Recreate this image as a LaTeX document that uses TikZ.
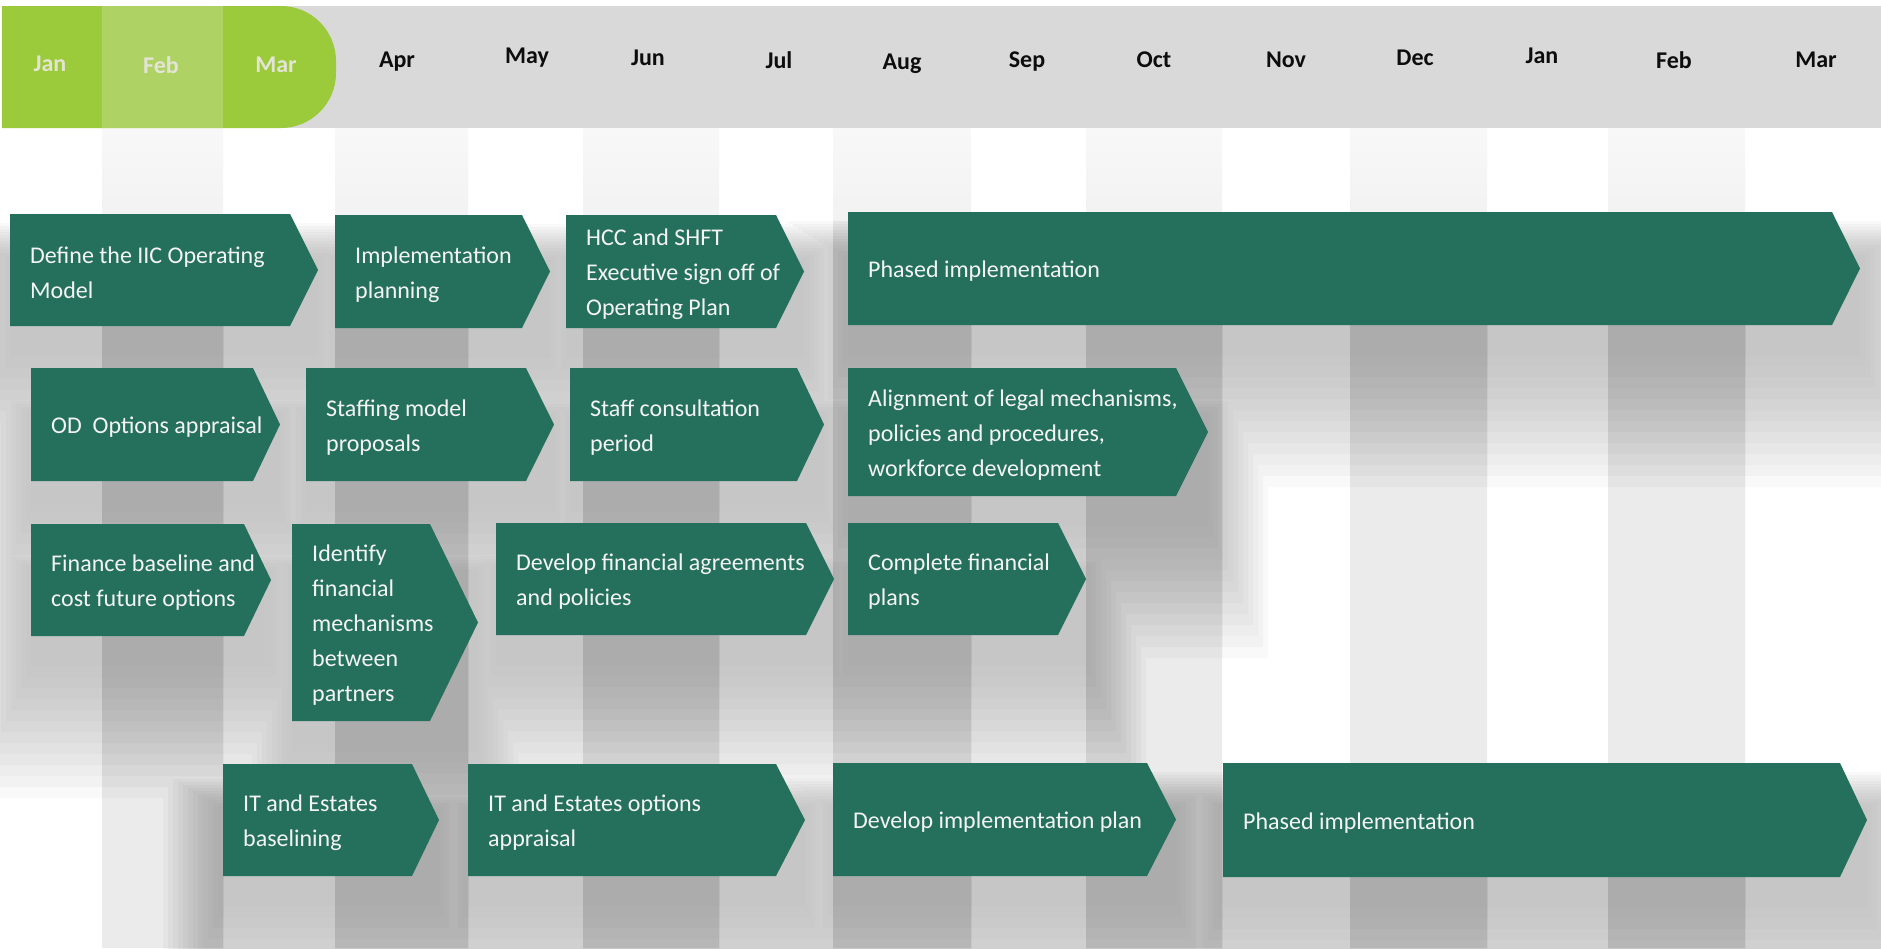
\documentclass[tikz,border=0pt]{standalone}
\usepackage{fontspec}
\setmainfont{Carlito}
\definecolor{arrowgreen}{HTML}{24705C}
\definecolor{txtwhite}{HTML}{F4F4F4}
\definecolor{hgray}{HTML}{D9D9D9}
\definecolor{hgreen}{HTML}{9BCA3A}
\definecolor{hgreenlight}{HTML}{AED263}
\definecolor{hgreentext}{HTML}{E4E4D6}
\definecolor{montext}{HTML}{0D0D0D}
\definecolor{shlight}{HTML}{C6C6C6}
\definecolor{shdark}{HTML}{ACACAC}
\definecolor{colbase}{HTML}{EBEBEB}
\definecolor{coltop}{HTML}{F8F8F8}
\tikzset{
  txt/.style={text=txtwhite, align=left, inner sep=0pt, anchor=west,
    font=\fontsize{24}{35}\selectfont},
  mon/.style={text=montext, inner sep=0pt, font=\fontsize{24}{28}\selectfont\bfseries},
  gmon/.style={mon, text=hgreentext},
}
% one shadow rectangle for arrow spanning x #1..#2, y #3..#4, grown by layer \k
\newcommand\sr[4]{({#1-\k*5},{#3+45-\k*3}) rectangle ({#2+\k*5},{#4+30+\k*11})}
\newcommand\allrects{%
  \sr{10}{318}{214}{326}
  \sr{335}{550}{215}{328}
  \sr{566}{804}{215}{328}
  \sr{848}{1860}{212}{325}
  \sr{31}{280}{368}{481}
  \sr{306}{554}{368}{481}
  \sr{570}{824}{368}{481}
  \sr{848}{1208}{368}{496}
  \sr{31}{271}{524}{636}
  \sr{292}{478}{524}{721}
  \sr{496}{834}{523}{635}
  \sr{848}{1086}{523}{635}
  \sr{223}{439}{764}{876}
  \sr{468}{805}{764}{876}
  \sr{833}{1176}{763}{876}
  \sr{1223}{1867}{763}{877}
}
% #1 core colour, #2 base colour
\newcommand\shadowpass[2]{%
  \foreach \k in {12,...,0}{%
    \pgfmathtruncatemacro\pct{100*(1-(\k/13)^1.5)}%
    \fill[fill=#1!\pct!#2] \allrects;
  }%
}
\newcommand\darkcols{%
  (102,128) rectangle (223,948)
  (335,128) rectangle (468,948)
  (583,128) rectangle (719,948)
  (833,128) rectangle (971,948)
  (1086,128) rectangle (1222,948)
  (1350,128) rectangle (1487,948)
  (1608,128) rectangle (1745,948)
}
% #1 name, #2 x left, #3 x body end, #4 x tip, #5 y top, #6 y bottom, #7 text
\newcommand\chev[7]{%
  \fill[arrowgreen] (#2,#5) -- (#3,#5) -- (#4,{(#5+#6)/2}) -- (#3,#6) -- (#2,#6) -- cycle;
  \node[txt] (#1) at ({#2+20},{(#5+#6)/2+3}) {#7};
}
\begin{document}
\begin{tikzpicture}[x=1pt,y=-1pt]
\useasboundingbox (0,0) rectangle (1881,948);
\fill[white] (0,0) rectangle (1881,948);
% light columns: shadows
\shadowpass{shlight}{white}
% dark columns: base stripes and darker shadows
\begin{scope}
  \clip \darkcols;
  \shade[top color=coltop, bottom color=colbase] (0,128) rectangle (1881,330);
  \fill[colbase] (0,330) rectangle (1881,948);
  \shadowpass{shdark}{colbase}
\end{scope}
% header
\fill[hgray] (2,6) rectangle (1881,128);
\begin{scope}
  \clip (2,0) rectangle (400,200);
  \fill[hgreen, rounded corners=55pt] (-100,6) rectangle (336,128);
\end{scope}
\fill[hgreenlight] (102,6) rectangle (223,128);
\node[gmon] (m1) at (50,64) {Jan};
\node[gmon] (m2) at (161,65) {Feb};
\node[gmon] (m3) at (276,65) {Mar};
\node[mon] (m4) at (397,62) {Apr};
\node[mon] (m5) at (527,58) {May};
\node[mon] (m6) at (648,58) {Jun};
\node[mon] (m7) at (779,60) {Jul};
\node[mon] (m8) at (902,64) {Aug};
\node[mon] (m9) at (1027,62) {Sep};
\node[mon] (m10) at (1154,60) {Oct};
\node[mon] (m11) at (1286,60) {Nov};
\node[mon] (m12) at (1415,58) {Dec};
\node[mon] (m13) at (1542,56) {Jan};
\node[mon] (m14) at (1674,60) {Feb};
\node[mon] (m15) at (1816,60) {Mar};
% arrows
\chev{a1}{10}{290}{318}{214}{326}{Define the IIC Operating\\Model}
\chev{a2}{335}{522}{550}{215}{328}{Implementation\\planning}
\chev{a3}{566}{776}{804}{215}{328}{HCC and SHFT\\Executive sign off of\\Operating Plan}
\chev{a4}{848}{1832}{1860}{212}{325}{Phased implementation}
\chev{b1}{31}{253}{280}{368}{481}{OD\ \ Options appraisal}
\chev{b2}{306}{526}{554}{368}{481}{Staffing model\\proposals}
\chev{b3}{570}{797}{824}{368}{481}{Staff consultation\\period}
\chev{b4}{848}{1176}{1208}{368}{496}{Alignment of legal mechanisms,\\policies and procedures,\\workforce development}
\chev{c1}{31}{244}{271}{524}{636}{Finance baseline and\\cost future options}
\chev{c2}{292}{430}{478}{524}{721}{Identify\\financial\\mechanisms\\between\\partners}
\chev{c3}{496}{806}{834}{523}{635}{Develop financial agreements\\and policies}
\chev{c4}{848}{1058}{1086}{523}{635}{Complete financial\\plans}
\chev{d1}{223}{412}{439}{764}{876}{IT and Estates\\baselining}
\chev{d2}{468}{776}{805}{764}{876}{IT and Estates options\\appraisal}
\chev{d3}{833}{1147}{1176}{763}{876}{Develop implementation plan}
\chev{d4}{1223}{1840}{1867}{763}{877}{Phased implementation}
\end{tikzpicture}
\end{document}
